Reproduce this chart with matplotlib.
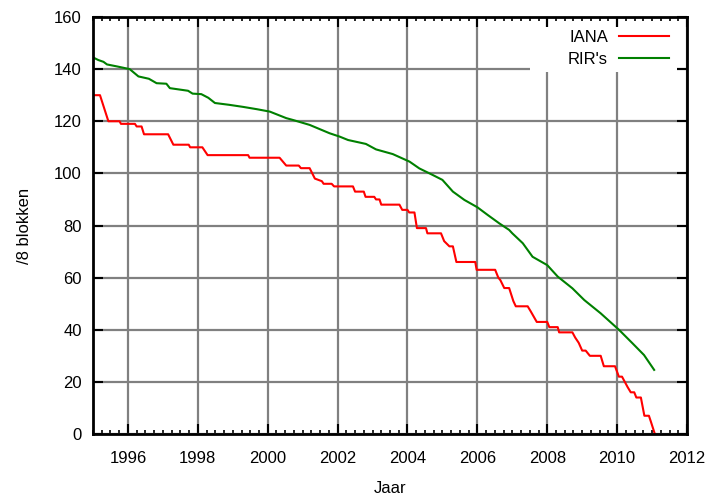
import matplotlib
matplotlib.use("Agg")
import matplotlib.pyplot as plt
from matplotlib.patches import Rectangle
from matplotlib.ticker import MultipleLocator

# IANA free /8 blocks (polyline points: year, count)
iana_year = [1995.0, 1995.2, 1995.44, 1995.76, 1995.8, 1996.2, 1996.25, 1996.39, 1996.46,
             1997.15, 1997.3, 1997.74, 1997.78, 1998.13, 1998.28, 1999.44, 1999.48, 2000.34,
             2000.53, 2000.89, 2000.95, 2001.2, 2001.35, 2001.55, 2001.6, 2001.83, 2001.9,
             2002.44, 2002.5, 2002.75, 2002.8, 2003.05, 2003.1, 2003.2, 2003.25, 2003.77,
             2003.85, 2004.0, 2004.05, 2004.2, 2004.27, 2004.53, 2004.57, 2004.96, 2005.05,
             2005.2, 2005.3, 2005.4, 2005.94, 2005.98, 2006.51, 2006.6, 2006.66, 2006.77,
             2006.91, 2007.03, 2007.1, 2007.44, 2007.53, 2007.7, 2008.0, 2008.06, 2008.3,
             2008.34, 2008.72, 2008.8, 2008.9, 2009.0, 2009.1, 2009.22, 2009.53, 2009.62,
             2009.94, 2010.05, 2010.14, 2010.22, 2010.3, 2010.39, 2010.49, 2010.55, 2010.68,
             2010.78, 2010.91, 2010.96, 2011.08]
iana_val = [130, 130, 120, 120, 119, 119, 118, 118, 115,
            115, 111, 111, 110, 110, 107, 107, 106, 106,
            103, 103, 102, 102, 98, 97, 96, 96, 95,
            95, 93, 93, 91, 91, 90, 90, 88, 88,
            86, 86, 85, 85, 79, 79, 77, 77, 74,
            72, 72, 66, 66, 63, 63, 60, 59, 56,
            56, 51, 49, 49, 47, 43, 43, 41, 41,
            39, 39, 37, 35, 32, 32, 30, 30, 26,
            26, 22, 22, 20, 18, 16, 16, 14, 14,
            7, 7, 5, 0]

# RIR's free /8 blocks
rir_year = [1995.0, 1995.15, 1995.3, 1995.4, 1995.7, 1996.05, 1996.3, 1996.6, 1996.82,
            1997.1, 1997.2, 1997.72, 1997.85, 1998.1, 1998.3, 1998.49, 1998.9, 1999.3,
            1999.7, 2000.06, 2000.53, 2000.72, 2001.2, 2001.77, 2002.06, 2002.3, 2002.81,
            2003.1, 2003.58, 2004.06, 2004.34, 2004.72, 2005.0, 2005.3, 2005.63, 2006.0,
            2006.3, 2006.63, 2006.91, 2007.0, 2007.3, 2007.58, 2008.0, 2008.3, 2008.72,
            2009.06, 2009.53, 2010.06, 2010.44, 2010.77, 2011.06]
rir_val = [144.5, 143.5, 142.8, 141.8, 141.0, 140.0, 137.2, 136.3, 134.6,
           134.4, 132.7, 131.7, 130.6, 130.4, 129.0, 127.0, 126.3, 125.5,
           124.6, 123.7, 121.2, 120.5, 118.6, 115.4, 114.1, 112.8, 111.3,
           109.2, 107.4, 104.5, 101.9, 99.4, 97.5, 93.0, 89.8, 87.0,
           84.0, 80.8, 78.3, 77.0, 73.2, 68.0, 64.8, 60.4, 55.9,
           51.4, 46.3, 39.9, 34.8, 30.3, 24.6]

x_ticks = [1996, 1998, 2000, 2002, 2004, 2006, 2008, 2010, 2012]
y_ticks = [0, 20, 40, 60, 80, 100, 120, 140, 160]

plt.rcParams['font.family'] = ['Liberation Sans', 'DejaVu Sans']
plt.rcParams['font.size'] = 12

fig = plt.figure(figsize=(7.1, 4.97), dpi=100)
ax = fig.add_axes([93/710, 1-434/497, 594/710, 417/497])

ax.plot(iana_year, iana_val, color='#ff0000', lw=1.5, label='IANA', zorder=3)
ax.plot(rir_year, rir_val, color='#008000', lw=1.5, label="RIR's", zorder=3)

ax.set_xlim(1995, 2012)
ax.set_ylim(0, 160)
ax.set_xticks(x_ticks)
ax.set_yticks(y_ticks)
ax.xaxis.set_minor_locator(MultipleLocator(0.25))

ax.set_axisbelow(True)
ax.grid(True, which='major', color='#808080', lw=1.6)
ax.tick_params(which='major', direction='in', length=7, width=1.5, top=True, right=True,
               colors='black')
ax.tick_params(which='minor', direction='in', length=3.2, width=1.2, top=True, right=False,
               left=False)
ax.tick_params(axis='x', which='major', pad=12)
ax.tick_params(axis='y', which='major', pad=8)
for s in ax.spines.values():
    s.set_linewidth(2)
    s.set_zorder(4)

# white legend background covering the grid
ax.add_patch(Rectangle((0.7357, 0.868), 1 - 0.7357 - 10/594, 1 - 0.868 - 10/417,
                       transform=ax.transAxes, facecolor='white', edgecolor='none', zorder=1))

ax.legend(loc='upper right', frameon=False, markerfirst=False, handlelength=3.0,
          handletextpad=0.66, borderaxespad=0, borderpad=0, labelspacing=0.44,
          bbox_to_anchor=((669 - 93) / 594, (434 - 30) / 417))

ax.set_xlabel('Jaar', labelpad=11)
ax.set_ylabel('/8 blokken', labelpad=16)

fig.savefig('out.png', dpi=100)
